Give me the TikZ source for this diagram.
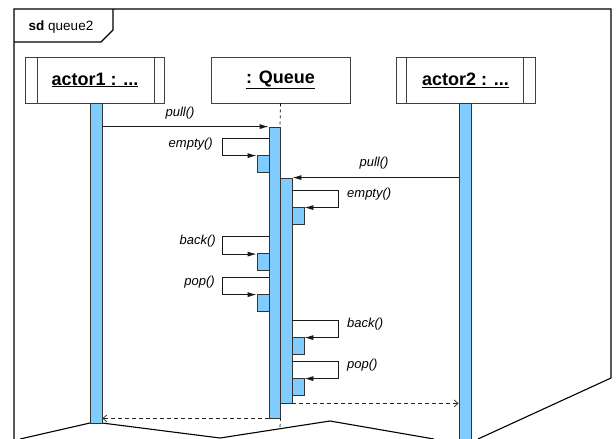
\documentclass[tikz,border=0pt]{standalone}
\usepackage{fontspec}
\setmainfont{Liberation Sans}
\usetikzlibrary{arrows.meta}
\definecolor{barblue}{RGB}{128,204,255}
\begin{document}
\begin{tikzpicture}[x=1pt,y=-1pt,
 lbl/.style={font=\fontsize{13}{15}\selectfont\itshape, inner sep=0pt},
 actbox/.style={draw=black!75, line width=0.9pt, minimum width=139pt, minimum height=46pt, inner sep=0pt, font=\fontsize{18}{20}\selectfont\bfseries},
 bar/.style={draw=black!80, fill=barblue, line width=0.8pt, inner sep=0pt, minimum width=12pt},
 sbar/.style={bar, minimum height=17pt},
 frameline/.style={line width=1.1pt, black},
 msg/.style={line width=0.8pt, draw=black!90, -{Latex[length=9pt,width=5pt]}},
 ret/.style={line width=0.7pt, draw=black!85, dash pattern=on 4pt off 3pt, -{Straight Barb[length=4pt,width=7pt]}},
 lifeline/.style={line width=0.7pt, dash pattern=on 3pt off 3pt},
]
\useasboundingbox (0,0) rectangle (616,439);
% frame
\draw[frameline] (14,439) -- (14,9) -- (611,9) -- (611,378) -- (478,439);
\draw[frameline] (20,439) -- (90,423) -- (102,423) -- (220,438) -- (330,421) -- (434,439);
\draw[frameline] (14,42) -- (101,42) -- (113,30) -- (113,9);
\node[font=\fontsize{13.5}{15}\selectfont, inner sep=0pt] (title) at (61,27) {\textbf{sd} queue2};
% header boxes
\node[actbox] (a1) at (95,80) {\underline{actor1 : ...}};
\node[actbox] (qb) at (280.5,80) {\underline{: Queue}};
\node[actbox] (a2) at (465.5,80) {\underline{actor2 : ...}};
\foreach \n/\l/\r in {a1/12/11, a2/11/12}{
  \draw[draw=black!75, line width=0.9pt] ([xshift=\l pt]\n.north west) -- ([xshift=\l pt]\n.south west);
  \draw[draw=black!75, line width=0.9pt] ([xshift=-\r pt]\n.north east) -- ([xshift=-\r pt]\n.south east);
}
% lifelines
\coordinate (qtop) at (280,127);
\coordinate (qend) at (280,427);
\draw[lifeline] (qb.south) -- (qtop);
\draw[lifeline] (qb.south |- 0,418) -- (qend);
% bars
\node[bar, minimum height=320pt] (a1bar) at (96,263) {};
\node[bar, minimum height=336pt] (a2bar) at (465,271) {};
\node[bar, minimum width=11pt, minimum height=291pt] (q1) at (274.5,272.5) {};
\node[bar, minimum height=225pt] (q2) at (286,290.5) {};
\node[sbar] (sL1) at (263,163.5) {};
\node[sbar] (sL2) at (263,262) {};
\node[sbar] (sL3) at (263,302.5) {};
\node[sbar] (sR1) at (298,215.5) {};
\node[sbar] (sR2) at (298,345.5) {};
\node[sbar] (sR3) at (298,386.5) {};
% calls
\draw[msg] (a1bar.east |- q1.north) -- (q1.north west);
\node[lbl] (m1) at (180,113) {pull()};
\draw[msg] (a2bar.west |- q2.north) -- (q2.north east);
\node[lbl] (m2) at (374,163) {pull()};
% left self loops
\coordinate (cL1) at (222,138);
\coordinate (cL2) at (222,236);
\coordinate (cL3) at (222,277);
\draw[msg] (q1.west |- cL1) -- (cL1) |- ([yshift=-1pt]sL1.north west);
\draw[msg] (q1.west |- cL2) -- (cL2) |- ([yshift=-1pt]sL2.north west);
\draw[msg] (q1.west |- cL3) -- (cL3) |- ([yshift=-1pt]sL3.north west);
\node[lbl, anchor=east] (m3) at (213,144) {empty()};
\node[lbl, anchor=east] (m5) at (216,241) {back()};
\node[lbl, anchor=east] (m6) at (215,282) {pop()};
% right self loops
\coordinate (cR1) at (338,190);
\coordinate (cR2) at (338,320);
\coordinate (cR3) at (338,361);
\draw[msg] (q2.east |- cR1) -- (cR1) |- ([yshift=-1pt]sR1.north east);
\draw[msg] (q2.east |- cR2) -- (cR2) |- ([yshift=-1pt]sR2.north east);
\draw[msg] (q2.east |- cR3) -- (cR3) |- ([yshift=-1pt]sR3.north east);
\node[lbl, anchor=west] (m4) at (347,194) {empty()};
\node[lbl, anchor=west] (m7) at (347,324) {back()};
\node[lbl, anchor=west] (m8) at (347,365) {pop()};
% returns
\draw[ret] (q2.south east) -- (a2bar.west |- q2.south);
\draw[ret] (q1.south west) -- (a1bar.east |- q1.south);
\end{tikzpicture}
\end{document}
